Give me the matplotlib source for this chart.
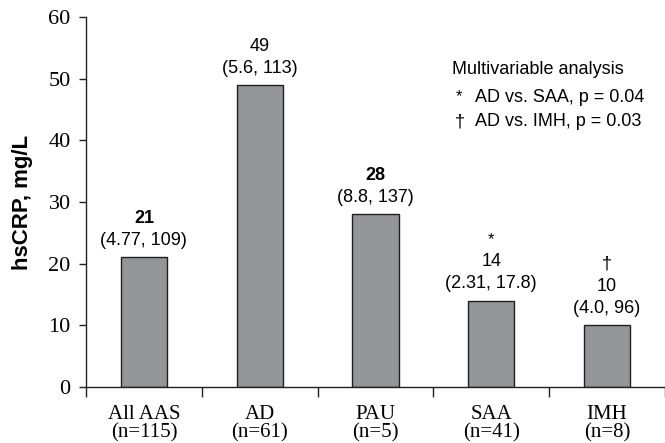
import numpy as np
import matplotlib.pyplot as plt
from matplotlib.ticker import FixedLocator

# data
groups = ['All AAS', 'AD', 'PAU', 'SAA', 'IMH']
n_sizes = [115, 61, 5, 41, 8]
hscrp = [21, 49, 28, 14, 10]
ranges = ['(4.77, 109)', '(5.6, 113)', '(8.8, 137)', '(2.31, 17.8)', '(4.0, 96)']
bold_value = [True, False, True, False, False]
markers = ['', '', '', '*', '\u2020']
notes = ['Multivariable analysis', 'AD vs. SAA, p = 0.04', 'AD vs. IMH, p = 0.03']
note_marks = ['*', '\u2020']

serif = 'Liberation Serif'
sans = 'Liberation Sans'

fig = plt.figure(figsize=(6.65, 4.43), dpi=100)
ax = fig.add_axes([86 / 665, 1 - 386.7 / 443, 1 - 86 / 665, (386.7 - 17.3) / 443])

x = np.arange(len(groups))
ax.bar(x, hscrp, width=0.4, color='#939598', edgecolor='#231f20', linewidth=1.0, zorder=2)

for xi, v, r, b, m in zip(x, hscrp, ranges, bold_value, markers):
    ax.annotate(r, (xi, v), xytext=(0, 12), textcoords='offset points',
                ha='center', va='center', fontsize=13, family=sans)
    ax.annotate(str(v), (xi, v), xytext=(0, 28), textcoords='offset points',
                ha='center', va='center', fontsize=13, family=sans,
                fontweight='bold' if b else 'normal')
    if m:
        ax.annotate(m, (xi, v), xytext=(0, 44), textcoords='offset points',
                    ha='center', va='center', fontsize=13 if m != '*' else 12, family=sans)

ax.set_xlim(-0.5, 4.5)
ax.set_ylim(0, 60)
ax.set_yticks(range(0, 61, 10))
ax.set_xticks(x)
ax.set_xticklabels([f'{g}\n(n={n})' for g, n in zip(groups, n_sizes)],
                   family=serif, fontsize=15, linespacing=0.9)
ax.xaxis.set_minor_locator(FixedLocator(np.arange(-0.5, 4.6, 1.0)))
ax.tick_params(axis='x', which='major', length=0, pad=13.5)
ax.tick_params(axis='x', which='minor', length=7, width=1.0, direction='out', color='#231f20')
ax.tick_params(axis='y', length=5, width=1.0, direction='out', pad=6, color='#231f20')
for lab in ax.get_yticklabels():
    lab.set_family(serif)
    lab.set_fontsize(16)

for s in ['top', 'right']:
    ax.spines[s].set_visible(False)
for s in ['left', 'bottom']:
    ax.spines[s].set_linewidth(1.0)
    ax.spines[s].set_color('#231f20')

ax.set_ylabel('hsCRP, mg/L', family=sans, fontsize=16, fontweight='bold', labelpad=11)

fig.text(452 / 665, 1 - 70 / 443, notes[0], family=sans, fontsize=13, va='center', ha='left')
fig.text(475 / 665, 1 - 98 / 443, notes[1], family=sans, fontsize=13, va='center', ha='left')
fig.text(475 / 665, 1 - 122 / 443, notes[2], family=sans, fontsize=13, va='center', ha='left')
fig.text(459 / 665, 1 - 97 / 443, note_marks[0], family=sans, fontsize=12, va='center', ha='center')
fig.text(460 / 665, 1 - 122 / 443, note_marks[1], family=sans, fontsize=13, va='center', ha='center')

fig.savefig('out.png', dpi=100)
